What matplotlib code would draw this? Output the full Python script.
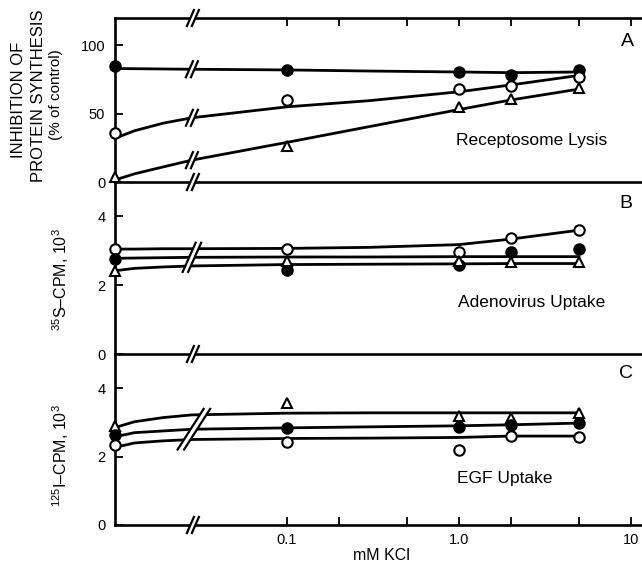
import matplotlib
matplotlib.use('Agg')
import matplotlib.pyplot as plt
from matplotlib.lines import Line2D
from matplotlib.patches import Polygon
from matplotlib.transforms import IdentityTransform
from matplotlib.ticker import FixedLocator, FixedFormatter, NullLocator

plt.rcParams['font.family'] = ['Liberation Sans', 'DejaVu Sans']
plt.rcParams['mathtext.fontset'] = 'custom'
plt.rcParams['mathtext.rm'] = 'Liberation Sans'
plt.rcParams['mathtext.it'] = 'Liberation Sans:italic'

# ---------------- data ----------------
kcl = [0, 0.1, 1.0, 2.0, 5.0]          # mM KCl
a_filled = [85, 82, 80.5, 78, 82]
a_open = [35.5, 60, 68, 70, 76.5]
a_tri = [4, 26, 55, 61, 68.5]
b_open = [3.04, 3.04, 2.96, 3.36, 3.6]
b_filled = [2.75, 2.44, 2.58, 2.97, 3.06]
b_tri = [2.42, 2.69, 2.7, 2.66, 2.66]
c_tri = [2.9, 3.57, 3.19, 3.14, 3.28]
c_filled = [2.64, 2.83, 2.87, 2.93, 2.99]
c_open = [2.34, 2.44, 2.19, 2.61, 2.58]

# hand-drawn fitted curves (axis positions; 0 drawn at left edge)
fit_x = [0, 0.013, 0.019, 0.028, 0.1, 0.3, 1.0, 2.0, 5.0]
a_fit_filled = [83, 82.9, 82.7, 82.5, 82, 81.2, 80.5, 80, 80.5]
a_fit_open = [32, 37.5, 43, 47, 55, 59.5, 66, 71, 78]
a_fit_tri = [1.5, 6, 11, 16, 29, 40.5, 53, 60, 68]
b_fit_open = [3.05, 3.05, 3.06, 3.06, 3.07, 3.1, 3.18, 3.34, 3.6]
b_fit_filled = [2.78, 2.79, 2.8, 2.81, 2.82, 2.82, 2.83, 2.83, 2.83]
b_fit_tri = [2.42, 2.49, 2.53, 2.56, 2.6, 2.61, 2.62, 2.63, 2.63]
c_fit_tri = [2.85, 3.02, 3.14, 3.22, 3.27, 3.28, 3.28, 3.28, 3.28]
c_fit_filled = [2.58, 2.7, 2.75, 2.8, 2.84, 2.87, 2.9, 2.93, 2.98]
c_fit_open = [2.27, 2.4, 2.46, 2.5, 2.53, 2.54, 2.56, 2.6, 2.6]

x_ticks = [0.1, 0.2, 0.5, 1.0, 2.0, 5.0, 10.0]
x_ticklabels = ['0.1', '', '', '1.0', '', '', '10']
X_ZERO = 0.01
X_BREAK = 0.028
X_MAX = 11.6


def ax_pos(v):
    return [X_ZERO if x == 0 else x for x in v]


W, H = 642, 571
fig = plt.figure(figsize=(W / 100, H / 100), dpi=100)


def px_rect(top, bottom):
    return [115 / W, 1 - bottom / H, (W - 115) / W, (bottom - top) / H]


axA = fig.add_axes(px_rect(18, 182))
axB = fig.add_axes(px_rect(182, 354))
axC = fig.add_axes(px_rect(354, 525))

SPW = 1.9
for ax in (axA, axB, axC):
    ax.set_xscale('log')
    ax.set_xlim(X_ZERO, X_MAX)
    ax.spines['right'].set_visible(False)
    for s in ax.spines.values():
        s.set_linewidth(SPW)
    ax.xaxis.set_major_locator(FixedLocator(x_ticks))
    ax.xaxis.set_minor_locator(NullLocator())
    ax.yaxis.set_minor_locator(NullLocator())
    ax.tick_params(axis='both', direction='in', length=6, width=1.3,
                   labelsize=10.5, pad=7)
    ax.patch.set_alpha(0)

axA.set_ylim(0, 120)
axA.set_yticks([0, 50, 100])
axB.set_ylim(0, 5)
axB.set_yticks([0, 2, 4])
axC.set_ylim(0, 5)
axC.set_yticks([0, 2, 4])
axB.spines['top'].set_visible(False)
axC.spines['top'].set_visible(False)

axA.tick_params(axis='x', top=True, bottom=False, labeltop=False, labelbottom=False)
axB.tick_params(axis='x', top=False, bottom=False, labelbottom=False)
axC.tick_params(axis='x', top=False, bottom=True, labelbottom=True, pad=6)
axC.xaxis.set_major_formatter(FixedFormatter(x_ticklabels))

LW = 2.0
MS = 7.5
MEW = 1.5


def draw_set(ax, fit, pts, kind):
    ax.plot(ax_pos(fit_x), fit, color='black', lw=LW, solid_capstyle='round',
            solid_joinstyle='round', zorder=3)
    if kind == 'filled':
        kw = dict(marker='o', mfc='black', mec='black')
    elif kind == 'open':
        kw = dict(marker='o', mfc='white', mec='black')
    else:
        kw = dict(marker='^', mfc='white', mec='black')
    ax.plot(ax_pos(kcl), pts, linestyle='none', ms=MS, mew=MEW, clip_on=False,
            zorder=4, **kw)


draw_set(axA, a_fit_filled, a_filled, 'filled')
draw_set(axA, a_fit_open, a_open, 'open')
draw_set(axA, a_fit_tri, a_tri, 'tri')
draw_set(axB, b_fit_open, b_open, 'open')
draw_set(axB, b_fit_filled, b_filled, 'filled')
draw_set(axB, b_fit_tri, b_tri, 'tri')
draw_set(axC, c_fit_tri, c_tri, 'tri')
draw_set(axC, c_fit_filled, c_filled, 'filled')
draw_set(axC, c_fit_open, c_open, 'open')


def brk(xd, ylo, yhi, half_w, gap, lw=1.6, color='black'):
    xs1 = xd - gap / 2
    xs2 = xd + gap / 2
    poly = Polygon([(xs1 - half_w, ylo), (xs1 + half_w, yhi),
                    (xs2 + half_w, yhi), (xs2 - half_w, ylo)],
                   closed=True, fc='white', ec='none',
                   transform=IdentityTransform(), zorder=6)
    fig.add_artist(poly)
    for xs in (xs1, xs2):
        fig.add_artist(Line2D([xs - half_w, xs + half_w], [ylo, yhi], color=color,
                              lw=lw, transform=IdentityTransform(), zorder=7))


def disp(ax, x, y):
    return ax.transData.transform((x, y))


# breaks on axis lines
for ax, yax in ((axA, 1.0), (axA, 0.0), (axB, 0.0), (axC, 0.0)):
    xd = ax.transData.transform((X_BREAK, 1))[0]
    yd = ax.transAxes.transform((0, yax))[1]
    brk(xd + 1, yd - 8, yd + 8, 3.5, 5)

# breaks on curves in A (one per curve)
bi = fit_x.index(X_BREAK)
for fit in (a_fit_filled, a_fit_open, a_fit_tri):
    xd, yd = disp(axA, X_BREAK, fit[bi])
    brk(xd, yd - 8, yd + 8, 3.5, 5)

# big breaks across the curves in B and C
ys = [disp(axB, X_BREAK, f[bi])[1] for f in (b_fit_open, b_fit_filled, b_fit_tri)]
xd = disp(axB, X_BREAK, 1)[0]
brk(xd, min(ys) - 6, max(ys) + 6, 6.5, 5.5)
ys = [disp(axC, X_BREAK, f[bi])[1] for f in (c_fit_tri, c_fit_filled, c_fit_open)]
xd = disp(axC, X_BREAK, 1)[0]
brk(xd + 2, min(ys) - 10, max(ys) + 6, 13, 6.5)

# panel texts
def ftext(xp, yp, s, **kw):
    fig.text(xp / W, 1 - yp / H, s, ha='center', va='center', **kw)


ftext(627, 41, 'A', fontsize=14)
ftext(626, 203, 'B', fontsize=14)
ftext(626, 374, 'C', fontsize=14)
ftext(532, 140, 'Receptosome Lysis', fontsize=12.5)
ftext(532, 302, 'Adenovirus Uptake', fontsize=12.5)
ftext(505, 478, 'EGF Uptake', fontsize=12.5)
ftext(381, 556, 'mM KCl', fontsize=11.5)

ftext(19, 100, 'INHIBITION OF', rotation=90, fontsize=12)
ftext(39, 96, 'PROTEIN SYNTHESIS', rotation=90, fontsize=12)
ftext(56, 95, '(% of control)', rotation=90, fontsize=11)
ftext(61, 280, r'$^{35}$S–CPM, 10$^{3}$', rotation=90, fontsize=11.5)
ftext(61, 456, r'$^{125}$I–CPM, 10$^{3}$', rotation=90, fontsize=11.5)

fig.savefig('out.png', dpi=100)
